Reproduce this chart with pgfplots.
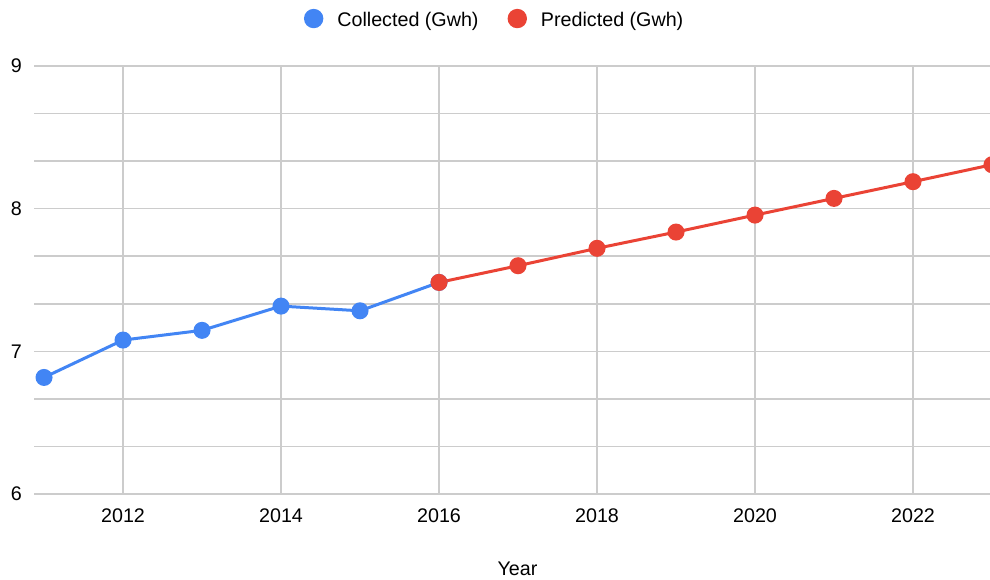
\documentclass[border=0pt]{standalone}
\usepackage{fontspec}
\setmainfont{Liberation Sans}
\usepackage{pgfplots}
\pgfplotsset{compat=1.18}

\definecolor{collected}{HTML}{4285F4}
\definecolor{predicted}{HTML}{EA4335}
\definecolor{gridgray}{HTML}{CCCCCC}

\begin{document}
\fontsize{19.7pt}{23pt}\selectfont
\begin{tikzpicture}[x=1pt,y=1pt]
\begin{axis}[
  at={(34pt,86pt)}, anchor=south west,
  scale only axis, width=958pt, height=428pt,
  xmin=2010.873, xmax=2023, ymin=6, ymax=9,
  axis line style={draw=none},
  major tick length=0pt, minor tick length=0pt,
  xtick={2012,2014,2016,2018,2020,2022},
  ytick={6,7,8,9},
  minor ytick={6.3333,6.6667,7.3333,7.6667,8.3333,8.6667},
  xmajorgrids, ymajorgrids, yminorgrids,
  major grid style={gridgray, line width=1.5pt},
  minor grid style={gridgray, line width=1.5pt},
  scaled x ticks=false,
  /pgf/number format/1000 sep={},
  /pgf/number format/assume math mode=true,
  xticklabel style={anchor=north, inner sep=0pt, yshift=-15pt},
  yticklabel style={anchor=east, inner sep=0pt, xshift=-12pt},
  xlabel={Year},
  xlabel style={at={(axis description cs:0.5047,-0.1752)}, anchor=center, inner sep=0pt},
  legend columns=2,
  legend cell align=left,
  legend image code/.code={\fill[#1,draw=none] (9.7pt,2pt) circle (9.7pt);},
  legend style={at={(axis description cs:0.2818,1.1098)}, anchor=west,
    draw=none, fill=none, inner sep=0pt, outer sep=0pt,
    nodes={inner sep=0pt},
    /tikz/every odd column/.append style={column sep=14pt},
    /tikz/every even column/.append style={column sep=29pt}},
]
\addplot[collected, line width=3pt, mark=*, mark size=7pt,
  mark options={draw=none, fill=collected}]
  coordinates {
    (2011,6.817) (2012,7.079) (2013,7.147) (2014,7.317)
    (2015,7.284) (2016,7.483)
  };
\addlegendentry{Collected (Gwh)}
\addplot[predicted, line width=3pt, mark=*, mark size=7pt,
  mark options={draw=none, fill=predicted}]
  coordinates {
    (2016,7.483) (2017,7.600) (2018,7.722) (2019,7.836)
    (2020,7.955) (2021,8.072) (2022,8.189) (2023,8.308)
  };
\addlegendentry{Predicted (Gwh)}
\end{axis}
\pgfresetboundingbox
\useasboundingbox (0,0) rectangle (990pt,580pt);
\end{tikzpicture}
\end{document}
